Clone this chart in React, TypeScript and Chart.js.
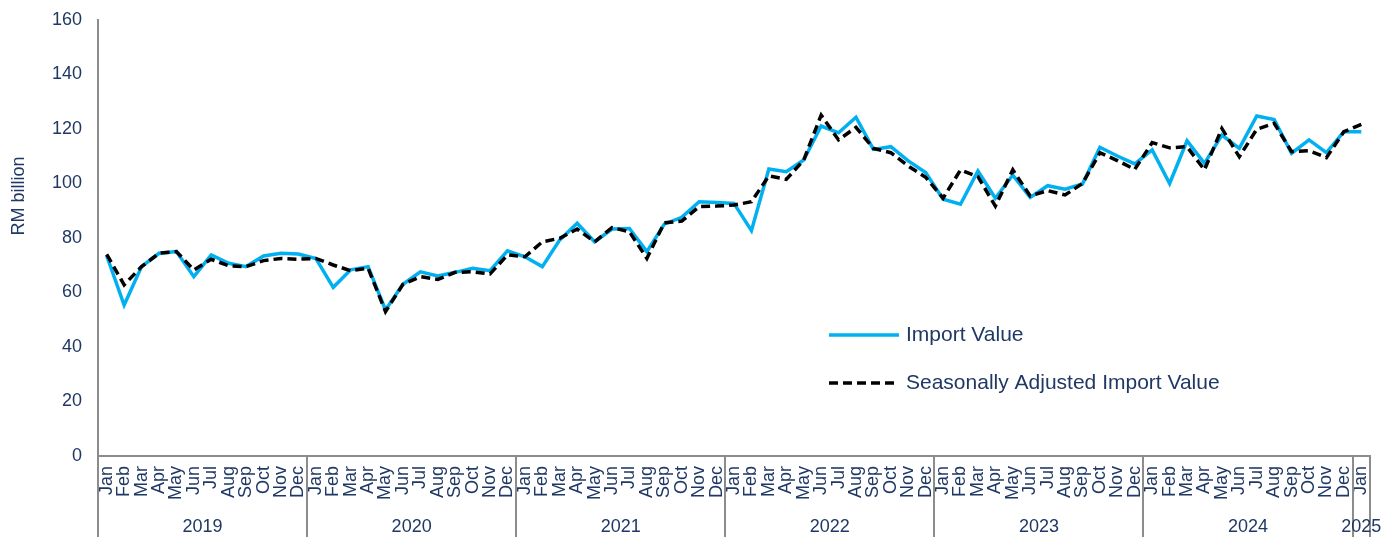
import React, { useEffect, useRef } from "react";
import { Chart, registerables } from "chart.js";

Chart.register(...registerables);

const MONTHS = ["Jan", "Feb", "Mar", "Apr", "May", "Jun", "Jul", "Aug", "Sep", "Oct", "Nov", "Dec"];
const YEARS = ["2019", "2020", "2021", "2022", "2023", "2024", "2025"];
const MONTHS_IN_YEAR = [12, 12, 12, 12, 12, 12, 1];

const categories: string[] = [];
YEARS.forEach((_, yi) => {
  for (let m = 0; m < MONTHS_IN_YEAR[yi]; m++) categories.push(MONTHS[m]);
});

const importValue = [
  73.5, 55.4, 69.5, 74.4, 75.0, 65.8, 73.8, 70.7, 69.5, 73.4, 74.4, 74.1,
  72.5, 61.9, 68.3, 69.5, 53.6, 63.0, 67.6, 66.1, 67.4, 68.9, 68.0, 75.3,
  73.1, 69.5, 79.3, 85.4, 78.6, 83.3, 83.5, 75.0, 85.1, 87.6, 93.3, 93.0,
  92.7, 82.7, 105.3, 104.3, 108.6, 121.1, 118.6, 124.3, 112.5, 113.5, 108.3, 104.0,
  94.2, 92.4, 104.6, 94.6, 103.1, 94.9, 99.2, 97.9, 99.8, 113.3, 110.1, 107.2,
  112.3, 100.0, 115.7, 107.4, 117.8, 112.9, 124.8, 123.5, 111.1, 116.0, 111.3, 119.0,
  119.0,
];

const seasonallyAdjusted = [
  74.0, 62.8, 69.5, 74.4, 75.0, 68.3, 72.2, 69.8, 69.5, 71.7, 72.5, 72.2,
  72.5, 70.1, 68.0, 68.9, 53.0, 63.0, 65.8, 64.8, 67.4, 67.6, 66.8, 73.8,
  73.1, 78.6, 79.9, 83.3, 78.6, 83.8, 82.3, 72.5, 85.6, 86.2, 91.5, 91.7,
  92.1, 93.3, 102.8, 101.5, 108.6, 125.1, 116.0, 120.6, 112.9, 111.3, 106.4, 102.3,
  94.6, 105.0, 102.5, 91.7, 105.0, 95.4, 97.4, 95.8, 100.0, 111.3, 108.4, 105.2,
  115.0, 113.1, 113.5, 105.0, 120.2, 109.8, 119.9, 122.1, 111.7, 112.0, 109.5, 119.0,
  121.7,
];

const SERIES_NAMES = ["Import Value", "Seasonally Adjusted Import Value"];
const Y_TITLE = "RM billion";

const NAVY = "#1F3864";
const BLUE = "#00B0F0";
const GRAY = "#8C8C8C";
const FONT = "'Liberation Sans', Arial, sans-serif";

const decorPlugin = {
  id: "decor",
  afterDraw(chart: any) {
    const { ctx, chartArea } = chart;
    const xs = chart.scales.x;
    const n = categories.length;
    const step = (xs.right - xs.left) / n;
    const bottom = chartArea.bottom;
    const H = chart.height;
    ctx.save();
    ctx.strokeStyle = GRAY;
    ctx.lineWidth = 2;
    let idx = 0;
    const bounds = [0];
    MONTHS_IN_YEAR.forEach((c) => {
      idx += c;
      bounds.push(idx);
    });
    bounds.forEach((b) => {
      const x = Math.round(xs.left + b * step);
      ctx.beginPath();
      ctx.moveTo(x, bottom);
      ctx.lineTo(x, H);
      ctx.stroke();
    });
    ctx.fillStyle = NAVY;
    ctx.font = `18px ${FONT}`;
    ctx.textAlign = "center";
    ctx.textBaseline = "middle";
    YEARS.forEach((y, i) => {
      const cx = xs.left + ((bounds[i] + bounds[i + 1]) / 2) * step;
      ctx.fillText(y, cx, 527);
    });
    ctx.save();
    ctx.translate(19, 196);
    ctx.rotate(-Math.PI / 2);
    ctx.font = `18px ${FONT}`;
    ctx.fillText(Y_TITLE, 0, 0);
    ctx.restore();
    ctx.lineWidth = 3.5;
    ctx.strokeStyle = BLUE;
    ctx.setLineDash([]);
    ctx.beginPath();
    ctx.moveTo(829, 335);
    ctx.lineTo(899, 335);
    ctx.stroke();
    ctx.strokeStyle = "#000";
    ctx.setLineDash([9, 5]);
    ctx.beginPath();
    ctx.moveTo(829, 383);
    ctx.lineTo(899, 383);
    ctx.stroke();
    ctx.setLineDash([]);
    ctx.font = `21px ${FONT}`;
    ctx.textAlign = "left";
    ctx.fillText(SERIES_NAMES[0], 906, 335);
    ctx.fillText(SERIES_NAMES[1], 906, 383);
    ctx.restore();
  },
};

export default function App() {
  const ref = useRef<HTMLCanvasElement>(null);
  useEffect(() => {
    document.body.style.margin = "0";
    const chart = new Chart(ref.current!, {
      type: "line",
      data: {
        labels: categories,
        datasets: [
          {
            label: SERIES_NAMES[0],
            data: importValue,
            borderColor: BLUE,
            backgroundColor: BLUE,
            borderWidth: 3.5,
            pointRadius: 0,
            tension: 0,
            order: 2,
          },
          {
            label: SERIES_NAMES[1],
            data: seasonallyAdjusted,
            borderColor: "#000000",
            backgroundColor: "#000000",
            borderWidth: 3.5,
            borderDash: [9, 5],
            pointRadius: 0,
            tension: 0,
            order: 1,
          },
        ],
      },
      options: {
        responsive: false,
        animation: false,
        layout: { padding: { top: 20, right: 12, left: 0, bottom: 0 } },
        plugins: { legend: { display: false }, tooltip: { enabled: false } },
        scales: {
          x: {
            type: "category",
            offset: true,
            grid: { display: false, drawTicks: false },
            border: { display: true, color: GRAY, width: 2 },
            ticks: {
              autoSkip: false,
              minRotation: 90,
              maxRotation: 90,
              padding: 10,
              color: NAVY,
              font: { family: FONT, size: 18 },
            },
            afterFit: (s: any) => {
              s.height = 81;
              s.paddingLeft = 0;
              s.paddingRight = 0;
              s.paddingTop = 0;
              s.paddingBottom = 0;
            },
          },
          y: {
            min: 0,
            max: 160,
            grid: { display: false, drawTicks: false },
            border: { display: true, color: GRAY, width: 2 },
            ticks: {
              stepSize: 20,
              padding: 16,
              color: NAVY,
              font: { family: FONT, size: 18 },
            },
            afterFit: (s: any) => {
              s.width = 98;
              s.paddingLeft = 0;
              s.paddingRight = 0;
              s.paddingTop = 0;
              s.paddingBottom = 0;
            },
          },
        },
      },
      plugins: [decorPlugin],
    });
    return () => chart.destroy();
  }, []);
  return (
    <div style={{ width: 1382, height: 537 }}>
      <canvas ref={ref} width={1382} height={537} style={{ display: "block" }} />
    </div>
  );
}
